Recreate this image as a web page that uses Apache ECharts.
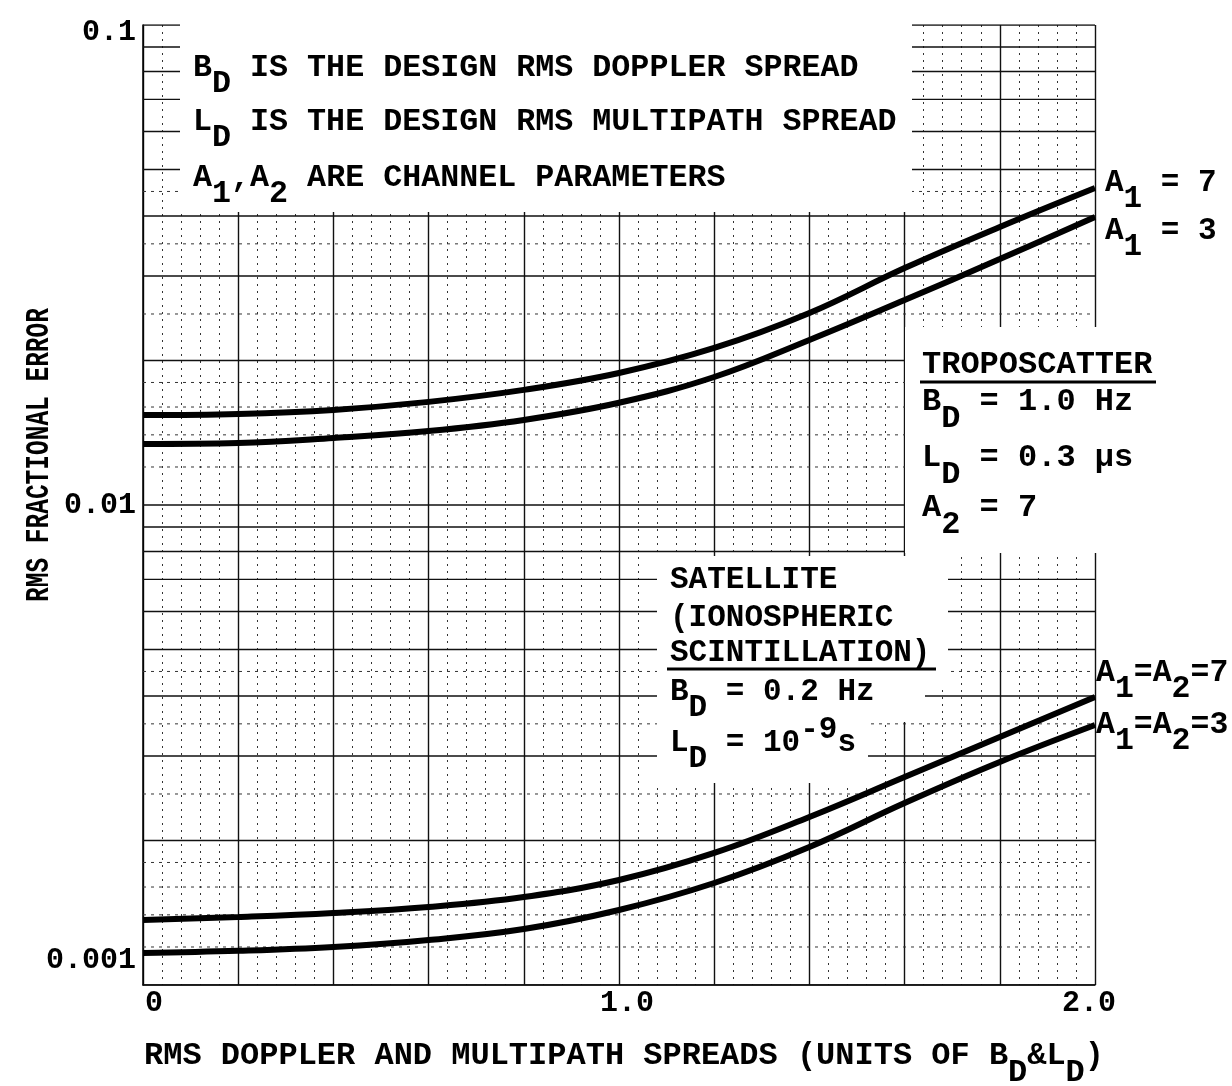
<!DOCTYPE html>
<html>
<head>
<meta charset="utf-8">
<script src="https://cdn.jsdelivr.net/npm/echarts@6/dist/echarts.min.js"></script>
<style>html,body{margin:0;padding:0;background:#fff}#c{width:1232px;height:1086px}</style>
</head>
<body>
<div id="c"></div>
<script>
// ---------- data ----------
const xValues = [0, 0.2, 0.4, 0.6, 0.8, 1.0, 1.2, 1.4, 1.6, 1.8, 2.0];
const tropoA1_7 = [0.01540, 0.01548, 0.01578, 0.01640, 0.01737, 0.01884, 0.02124, 0.02512, 0.03116, 0.03795, 0.04575];
const tropoA1_3 = [0.01340, 0.01346, 0.01379, 0.01426, 0.01504, 0.01633, 0.01848, 0.02207, 0.02673, 0.03255, 0.03981];
const satA_7 = [0.001366, 0.001386, 0.001413, 0.001454, 0.001525, 0.001655, 0.001884, 0.002239, 0.002712, 0.003286, 0.003981];
const satA_3 = [0.001166, 0.001178, 0.001200, 0.001241, 0.001308, 0.001433, 0.001631, 0.001939, 0.002394, 0.002915, 0.003480];

const xTickValues = [0, 1, 2];
const xTickLabels = ['0', '1.0', '2.0'];
const yTickLabels = ['0.001', '0.01', '0.1'];

// graph-paper rulings (log paper)
const paperDecades = [0.001, 0.01];
const paperMultipliers = [1, 2, 3, 4, 5, 6, 7, 8, 9];
const paperFine = [1.2, 1.4, 1.6, 1.8, 2.5, 3.5, 4.5];

// ---------- helpers ----------
const FONT = '"Liberation Mono", "Courier New", monospace';
function mono(x, y, parts, fs, weight) {
  const pitch = 0.6 * fs;
  let cx = x;
  const out = [];
  parts.forEach(p => {
    const t = Array.isArray(p) ? p[0] : p;
    const kind = Array.isArray(p) ? p[1] : 'n';
    const dy = kind === 's' ? 0.52 * fs : (kind === 'p' ? -0.42 * fs : 0);
    out.push({
      type: 'text', x: cx, y: y + dy, z: 60, silent: true,
      style: { text: t, font: (weight || 'bold') + ' ' + fs + 'px ' + FONT, fill: '#000', align: 'left', verticalAlign: 'middle' }
    });
    cx += t.length * pitch;
  });
  return out;
}
function rect(x, y, w, h) {
  return { type: 'rect', z: 50, silent: true, shape: { x: x, y: y, width: w, height: h }, style: { fill: '#fff' } };
}
function hline(x1, x2, y, w) {
  return { type: 'line', z: 60, silent: true, shape: { x1: x1, y1: y, x2: x2, y2: y }, style: { stroke: '#000', lineWidth: w } };
}

const paperMajor = [];
paperDecades.forEach(d => paperMultipliers.forEach(m => paperMajor.push(d * m)));
paperMajor.push(0.1);
const paperMinor = [];
paperDecades.forEach(d => paperFine.forEach(m => paperMinor.push(d * m)));

// each ruling runs across the full x range; '-' breaks the polyline between rulings
function rulings(vals) {
  const d = [];
  vals.forEach(v => { d.push([0, v], [2, v], ['-', '-']); });
  return d;
}

const labelFont = { fontFamily: FONT, fontSize: 30, fontWeight: 'bold', color: '#000' };

const chart = echarts.init(document.getElementById('c'), null, { width: 1232, height: 1086 });

function curve(name, vals) {
  return {
    name: name, type: 'line', smooth: 0.4, showSymbol: false, symbol: 'none', z: 40, silent: true,
    data: xValues.map((x, i) => [x, vals[i]]),
    lineStyle: { color: '#000', width: 6 }, itemStyle: { color: '#000' }
  };
}

const graphics = [
  // white boxes that hold the typed notes
  rect(180, 0, 732, 212),
  rect(905, 327, 200, 226),
  rect(657, 556, 291, 134),
  rect(657, 690, 268, 32),
  rect(657, 722, 211, 61)
];
// top-left notes
graphics.push(...mono(193, 68, ['B', ['D', 's'], ' IS THE DESIGN RMS DOPPLER SPREAD'], 31.7));
graphics.push(...mono(193, 122, ['L', ['D', 's'], ' IS THE DESIGN RMS MULTIPATH SPREAD'], 31.7));
graphics.push(...mono(193, 178, ['A', ['1', 's'], ',A', ['2', 's'], ' ARE CHANNEL PARAMETERS'], 31.7));
// troposcatter
graphics.push(...mono(922, 365, ['TROPOSCATTER'], 32));
graphics.push(hline(920, 1156, 382, 3));
graphics.push(...mono(922, 402, ['B', ['D', 's'], ' = 1.0 Hz'], 32));
graphics.push(...mono(922, 458, ['L', ['D', 's'], ' = 0.3 μs'], 32));
graphics.push(...mono(922, 508, ['A', ['2', 's'], ' = 7'], 32));
// satellite
graphics.push(...mono(670, 580, ['SATELLITE'], 31));
graphics.push(...mono(670, 618, ['(IONOSPHERIC'], 31));
graphics.push(...mono(670, 653, ['SCINTILLATION)'], 31));
graphics.push(hline(667, 936, 669, 3));
graphics.push(...mono(670, 692, ['B', ['D', 's'], ' = 0.2 Hz'], 31));
graphics.push(...mono(670, 743, ['L', ['D', 's'], ' = 10', ['-9', 'p'], 's'], 31));
// curve labels
graphics.push(...mono(1105, 183, ['A', ['1', 's'], ' = 7'], 31));
graphics.push(...mono(1105, 231, ['A', ['1', 's'], ' = 3'], 31));
graphics.push(...mono(1096, 673, ['A', ['1', 's'], '=A', ['2', 's'], '=7'], 31.5));
graphics.push(...mono(1096, 725, ['A', ['1', 's'], '=A', ['2', 's'], '=3'], 31.5));
// axis titles
graphics.push(...mono(144, 1056, ['RMS DOPPLER AND MULTIPATH SPREADS (UNITS OF B', ['D', 's'], '&L', ['D', 's'], ')'], 32));
graphics.push({
  type: 'text', x: 39, y: 455, rotation: Math.PI / 2, scaleX: 0.72, z: 60, silent: true,
  style: { text: 'RMS FRACTIONAL ERROR', font: 'bold 34px ' + FONT, fill: '#000', align: 'center', verticalAlign: 'middle' }
});

chart.setOption({
  animation: false,
  backgroundColor: '#fff',
  grid: { left: 143, right: 137, top: 25, bottom: 101 },
  xAxis: {
    type: 'value', min: 0, max: 2, interval: 0.2, z: 0,
    axisLine: { show: true, lineStyle: { color: '#000', width: 1.5 } },
    axisTick: { show: false },
    minorTick: { show: false, splitNumber: 5 },
    splitLine: { show: true, lineStyle: { color: '#111', width: 1.4 } },
    minorSplitLine: { show: true, lineStyle: { color: '#333', width: 1, type: [2, 5] } },
    axisLabel: {
      show: true, showMinLabel: true, showMaxLabel: true, margin: 3,
      fontFamily: FONT, fontSize: 30, fontWeight: 'bold', color: '#000',
      formatter: function (v) {
        const i = xTickValues.findIndex(t => Math.abs(t - v) < 1e-6);
        return i < 0 ? '' : '{x' + i + '|' + xTickLabels[i] + '}';
      },
      rich: {
        x0: Object.assign({ padding: [0, 0, 0, 22] }, labelFont),
        x1: Object.assign({ padding: [0, 0, 0, 16] }, labelFont),
        x2: Object.assign({ padding: [0, 12, 0, 0] }, labelFont)
      }
    }
  },
  yAxis: {
    type: 'log', logBase: 10, min: 0.001, max: 0.1, z: 0,
    axisLine: { show: true, lineStyle: { color: '#000', width: 1.5 } },
    axisTick: { show: false },
    splitLine: { show: false },
    axisLabel: {
      show: true, showMinLabel: true, showMaxLabel: true, margin: 7,
      fontFamily: FONT, fontSize: 30, fontWeight: 'bold', color: '#000',
      formatter: function (v) {
        const k = Math.round(Math.log10(v)) + 3;
        return (k < 0 || k > 2) ? '' : '{y' + k + '|' + yTickLabels[k] + '}';
      },
      rich: {
        y0: Object.assign({ padding: [0, 0, 50, 0] }, labelFont),
        y1: Object.assign({}, labelFont),
        y2: Object.assign({ padding: [14, 0, 0, 0] }, labelFont)
      }
    }
  },
  series: [
    {
      name: 'paper major', type: 'line', z: 1, silent: true, showSymbol: false, symbol: 'none',
      connectNulls: false, data: rulings(paperMajor), lineStyle: { color: '#111', width: 1.4 }
    },
    {
      name: 'paper minor', type: 'line', z: 1, silent: true, showSymbol: false, symbol: 'none',
      connectNulls: false, data: rulings(paperMinor), lineStyle: { color: '#333', width: 1, type: [3, 5] }
    },
    curve('Troposcatter A1 = 7', tropoA1_7),
    curve('Troposcatter A1 = 3', tropoA1_3),
    curve('Satellite A1 = A2 = 7', satA_7),
    curve('Satellite A1 = A2 = 3', satA_3)
  ],
  graphic: graphics
});
</script>
</body>
</html>
